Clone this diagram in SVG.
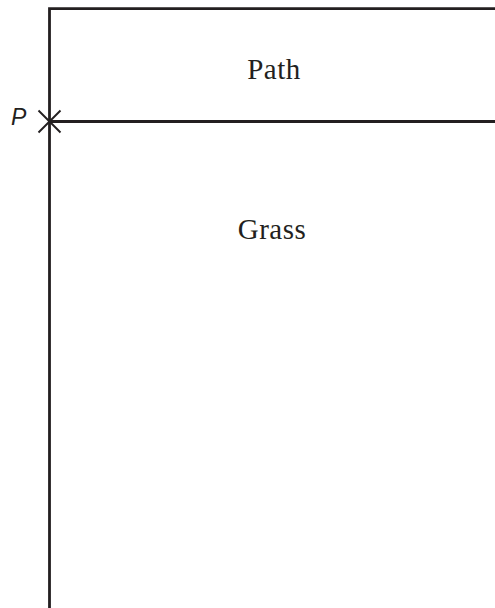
<svg xmlns="http://www.w3.org/2000/svg" width="495" height="608" viewBox="0 0 495 608">
<style>
.edge{stroke:#231f20;stroke-width:2.8;fill:none}
.cross{stroke:#231f20;stroke-width:1.9;fill:none}
.lbl{font-family:"Liberation Serif",serif;font-size:29px;fill:#231f20;text-anchor:middle;letter-spacing:0.5px}
.pt{font-family:"Liberation Sans",sans-serif;font-style:italic;font-size:23px;fill:#231f20}
</style>
<rect width="495" height="608" fill="#fff"/>
<g id="connectors">
<path class="edge" d="M49.5,608 V8.7 H495"/>
<path class="edge" d="M49.5,121.5 H495"/>
</g>
<g id="path-region"><text class="lbl" x="274" y="78.5">Path</text></g>
<g id="grass-region"><text class="lbl" x="272" y="238.5">Grass</text></g>
<g id="point-P">
<path class="cross" d="M38.5,110.5 L60.5,132.5 M38.5,132.5 L60.5,110.5"/>
<text class="pt" x="11" y="125">P</text>
</g>
</svg>
